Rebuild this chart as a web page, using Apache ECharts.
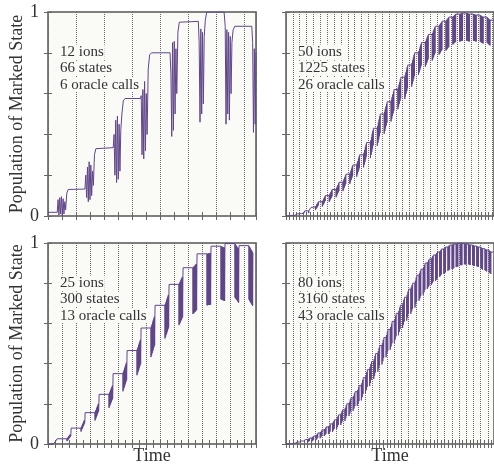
<!DOCTYPE html>
<html>
<head>
<meta charset="utf-8">
<script src="https://cdn.jsdelivr.net/npm/echarts@6/dist/echarts.min.js"></script>
<style>
  html, body { margin: 0; padding: 0; background: #fff; }
  #main { width: 494px; height: 466px; }
</style>
</head>
<body>
<div id="main"></div>
<script>
// panel captions
var labels12 = ['12 ions', '66 states', '6 oracle calls'];
var labels50 = ['50 ions', '1225 states', '26 oracle calls'];
var labels25 = ['25 ions', '300 states', '13 oracle calls'];
var labels80 = ['80 ions', '3160 states', '43 oracle calls'];
var yTickText = ['0', '1'];

// 12 ions: time in oracle periods, population (read point by point)
var curve12 = [
  [0, 0.018], [0.33, 0.018],
  [0.36, 0.08], [0.39, 0.005], [0.42, 0.09], [0.45, 0.01], [0.48, 0.095], [0.51, 0.0], [0.54, 0.085], [0.57, 0.01], [0.6, 0.07], [0.63, 0.03], [0.67, 0.11], [0.72, 0.13], [0.78, 0.132],
  [1.32, 0.132],
  [1.35, 0.2], [1.38, 0.09], [1.41, 0.24], [1.44, 0.07], [1.47, 0.266], [1.5, 0.08], [1.53, 0.25], [1.56, 0.1], [1.59, 0.22], [1.62, 0.15], [1.66, 0.3], [1.71, 0.33], [1.77, 0.335],
  [2.33, 0.335],
  [2.36, 0.4], [2.39, 0.2], [2.42, 0.47], [2.45, 0.164], [2.48, 0.49], [2.51, 0.18], [2.54, 0.45], [2.57, 0.22], [2.6, 0.42], [2.64, 0.5], [2.69, 0.565], [2.75, 0.576],
  [3.3, 0.576], [3.33, 0.59],
  [3.36, 0.3], [3.39, 0.62], [3.42, 0.28], [3.45, 0.66], [3.48, 0.32], [3.51, 0.6], [3.54, 0.4], [3.58, 0.72], [3.63, 0.79], [3.7, 0.8],
  [4.36, 0.8],
  [4.39, 0.7], [4.42, 0.39], [4.45, 0.85], [4.48, 0.42], [4.51, 0.856], [4.54, 0.5], [4.57, 0.82], [4.6, 0.6], [4.64, 0.9], [4.69, 0.95], [4.76, 0.954],
  [5.37, 0.954],
  [5.4, 0.85], [5.43, 0.46], [5.46, 0.917], [5.49, 0.5], [5.52, 0.9], [5.55, 0.55], [5.58, 0.88], [5.62, 0.96], [5.67, 1.0],
  [6.29, 1.0],
  [6.33, 0.93], [6.36, 0.45], [6.39, 0.913], [6.42, 0.5], [6.45, 0.9], [6.48, 0.47], [6.51, 0.88], [6.54, 0.6], [6.57, 0.85], [6.61, 0.91], [6.67, 0.93],
  [7.28, 0.93],
  [7.31, 0.85], [7.34, 0.41], [7.37, 0.82], [7.4, 0.45], [7.43, 0.8]
];

// 50 ions: plateau after each call, and bottom of the wiggle between calls
var levels50 = [0, 0.003, 0.012, 0.025, 0.045, 0.07, 0.1, 0.13, 0.165, 0.205, 0.25, 0.3, 0.36, 0.43, 0.5, 0.56, 0.62, 0.68, 0.74, 0.8, 0.85, 0.89, 0.93, 0.955, 0.975, 0.99, 0.995, 0.99, 0.985, 0.975, 0.96];
var lows50 = [0, 0, 0.004, 0.013, 0.028, 0.045, 0.068, 0.09, 0.12, 0.155, 0.19, 0.235, 0.28, 0.34, 0.4, 0.46, 0.52, 0.57, 0.63, 0.69, 0.73, 0.76, 0.79, 0.81, 0.84, 0.855, 0.86, 0.86, 0.855, 0.85];

// 25 ions
var levels25 = [0.0, 0.026, 0.079, 0.156, 0.247, 0.35, 0.465, 0.577, 0.69, 0.794, 0.877, 0.946, 0.984, 0.997, 0.987];
var tops25 = [0.02, 0.054, 0.128, 0.21, 0.3, 0.416, 0.53, 0.646, 0.753, 0.84, 0.9, 0.95, 0.975, 0.967, 0.95];
var lows25 = [0.0, 0.013, 0.06, 0.115, 0.178, 0.26, 0.34, 0.43, 0.523, 0.59, 0.646, 0.69, 0.72, 0.73, 0.72];

// 80 ions
var levels80 = [0, 0.001, 0.004, 0.01, 0.015, 0.022, 0.03, 0.04, 0.055, 0.07, 0.085, 0.1, 0.12, 0.145, 0.17, 0.2, 0.23, 0.26, 0.29, 0.33, 0.37, 0.41, 0.45, 0.49, 0.53, 0.57, 0.61, 0.65, 0.69, 0.73, 0.77, 0.8, 0.84, 0.87, 0.9, 0.92, 0.94, 0.955, 0.97, 0.98, 0.99, 0.995, 0.998, 0.998, 0.995, 0.99, 0.985, 0.98, 0.972, 0.965, 0.955];
var lows80 = [0, 0, 0, 0.002, 0.005, 0.008, 0.012, 0.018, 0.027, 0.038, 0.048, 0.058, 0.073, 0.092, 0.112, 0.137, 0.162, 0.187, 0.213, 0.248, 0.284, 0.32, 0.356, 0.392, 0.428, 0.465, 0.5, 0.537, 0.573, 0.61, 0.645, 0.675, 0.71, 0.74, 0.77, 0.79, 0.81, 0.83, 0.845, 0.86, 0.87, 0.88, 0.89, 0.895, 0.895, 0.89, 0.885, 0.875, 0.865, 0.855];

var purple = '#60468a';
var serif = 'Liberation Serif';
var plotBg = '#fafaf7';

// staircase: flat plateau at each call, then a dense slanted wiggle up to the next one
function stairs(levels, tops, lows, band, strokes) {
  var pts = [];
  for (var i = 0; i < levels.length; i++) {
    var a = i === 0 ? 0 : i - 0.5 + band / 2;
    var b = i + 0.5 - band / 2;
    pts.push([a, levels[i]], [b, levels[i]]);
    if (i < lows.length) {
      var up1 = tops ? tops[i] : (i + 1 < levels.length ? levels[i + 1] : levels[i]);
      var rise = up1 - levels[i];
      for (var k = 0; k < strokes; k++) {
        var f = (k + 0.5) / strokes;
        var y = k % 2 ? levels[i] + rise * f : lows[i] + rise * f;
        pts.push([b + band * f, y]);
      }
    }
  }
  return pts;
}

var panels = [
  { grid: { left: 48, top: 12, width: 208, height: 204 }, max: 7.43, step: 1, data: curve12, text: labels12, tx: 59, ty: 52, ylab: true, time: false },
  { grid: { left: 286, top: 12, width: 212, height: 204 }, max: 30.29, step: 1, data: stairs(levels50, null, lows50, 0.45, 9), text: labels50, tx: 297, ty: 52, ylab: false, time: false },
  { grid: { left: 48, top: 243, width: 208, height: 203 }, max: 14.86, step: 1, data: stairs(levels25, tops25, lows25, 0.3, 14), text: labels25, tx: 59, ty: 283, ylab: true, time: true },
  { grid: { left: 286, top: 243, width: 212, height: 203 }, max: 50.48, step: 1.75, data: stairs(levels80, null, lows80, 0.5, 5), text: labels80, tx: 297, ty: 283, ylab: false, time: true }
];

var chart = echarts.init(document.getElementById('main'), null, { renderer: 'canvas' });

var option = {
  animation: false,
  backgroundColor: '#fff',
  grid: [], xAxis: [], yAxis: [], series: [], graphic: []
};

panels.forEach(function (p, g) {
  option.grid.push(Object.assign({
    show: true, backgroundColor: plotBg, borderColor: '#555', borderWidth: 1.5
  }, p.grid));

  ['bottom', 'top'].forEach(function (pos) {
    var bottom = pos === 'bottom';
    option.xAxis.push({
      type: 'value', gridIndex: g, position: pos,
      min: 0, max: p.max, interval: p.step,
      axisLine: { show: false },
      axisLabel: { show: false },
      axisTick: { show: true, inside: true, length: 4, lineStyle: { color: '#666' } },
      minorTick: { show: true, splitNumber: 2, length: 4, lineStyle: { color: '#666' } },
      splitLine: { show: bottom, lineStyle: { color: '#666', width: 1, type: [1, 1] } },
      name: bottom && p.time ? 'Time' : '',
      nameLocation: 'middle', nameGap: 3,
      nameTextStyle: { fontFamily: serif, fontSize: 18, color: '#333' }
    });
  });

  ['left', 'right'].forEach(function (pos) {
    var left = pos === 'left';
    option.yAxis.push({
      type: 'value', gridIndex: g, position: pos,
      min: 0, max: 1, interval: 0.2,
      axisLine: { show: false },
      splitLine: { show: false },
      axisTick: { show: true, inside: true, length: 4, lineStyle: { color: '#666' } },
      axisLabel: {
        show: left && p.ylab, margin: 9,
        fontFamily: serif, fontSize: 18, color: '#333',
        formatter: function (v) { return v === 0 ? yTickText[0] : (v === 1 ? yTickText[1] : ''); }
      },
      name: left && p.ylab ? 'Population of Marked State' : '',
      nameLocation: 'middle', nameRotate: 90, nameGap: 22,
      nameTextStyle: { fontFamily: serif, fontSize: 18, color: '#333' }
    });
  });

  option.series.push({
    type: 'line', xAxisIndex: g * 2, yAxisIndex: g * 2,
    data: p.data, showSymbol: false, symbol: 'none',
    lineStyle: { color: purple, width: 1 },
    clip: true, z: 3
  });

  p.text.forEach(function (t, k) {
    option.graphic.push({
      type: 'text', x: p.tx, y: p.ty + k * 16.3, z: 100,
      style: {
        text: t, font: '15px "' + serif + '"', fill: '#333',
        verticalAlign: 'middle', backgroundColor: plotBg, padding: [0, 1]
      }
    });
  });
});

chart.setOption(option);
</script>
</body>
</html>
